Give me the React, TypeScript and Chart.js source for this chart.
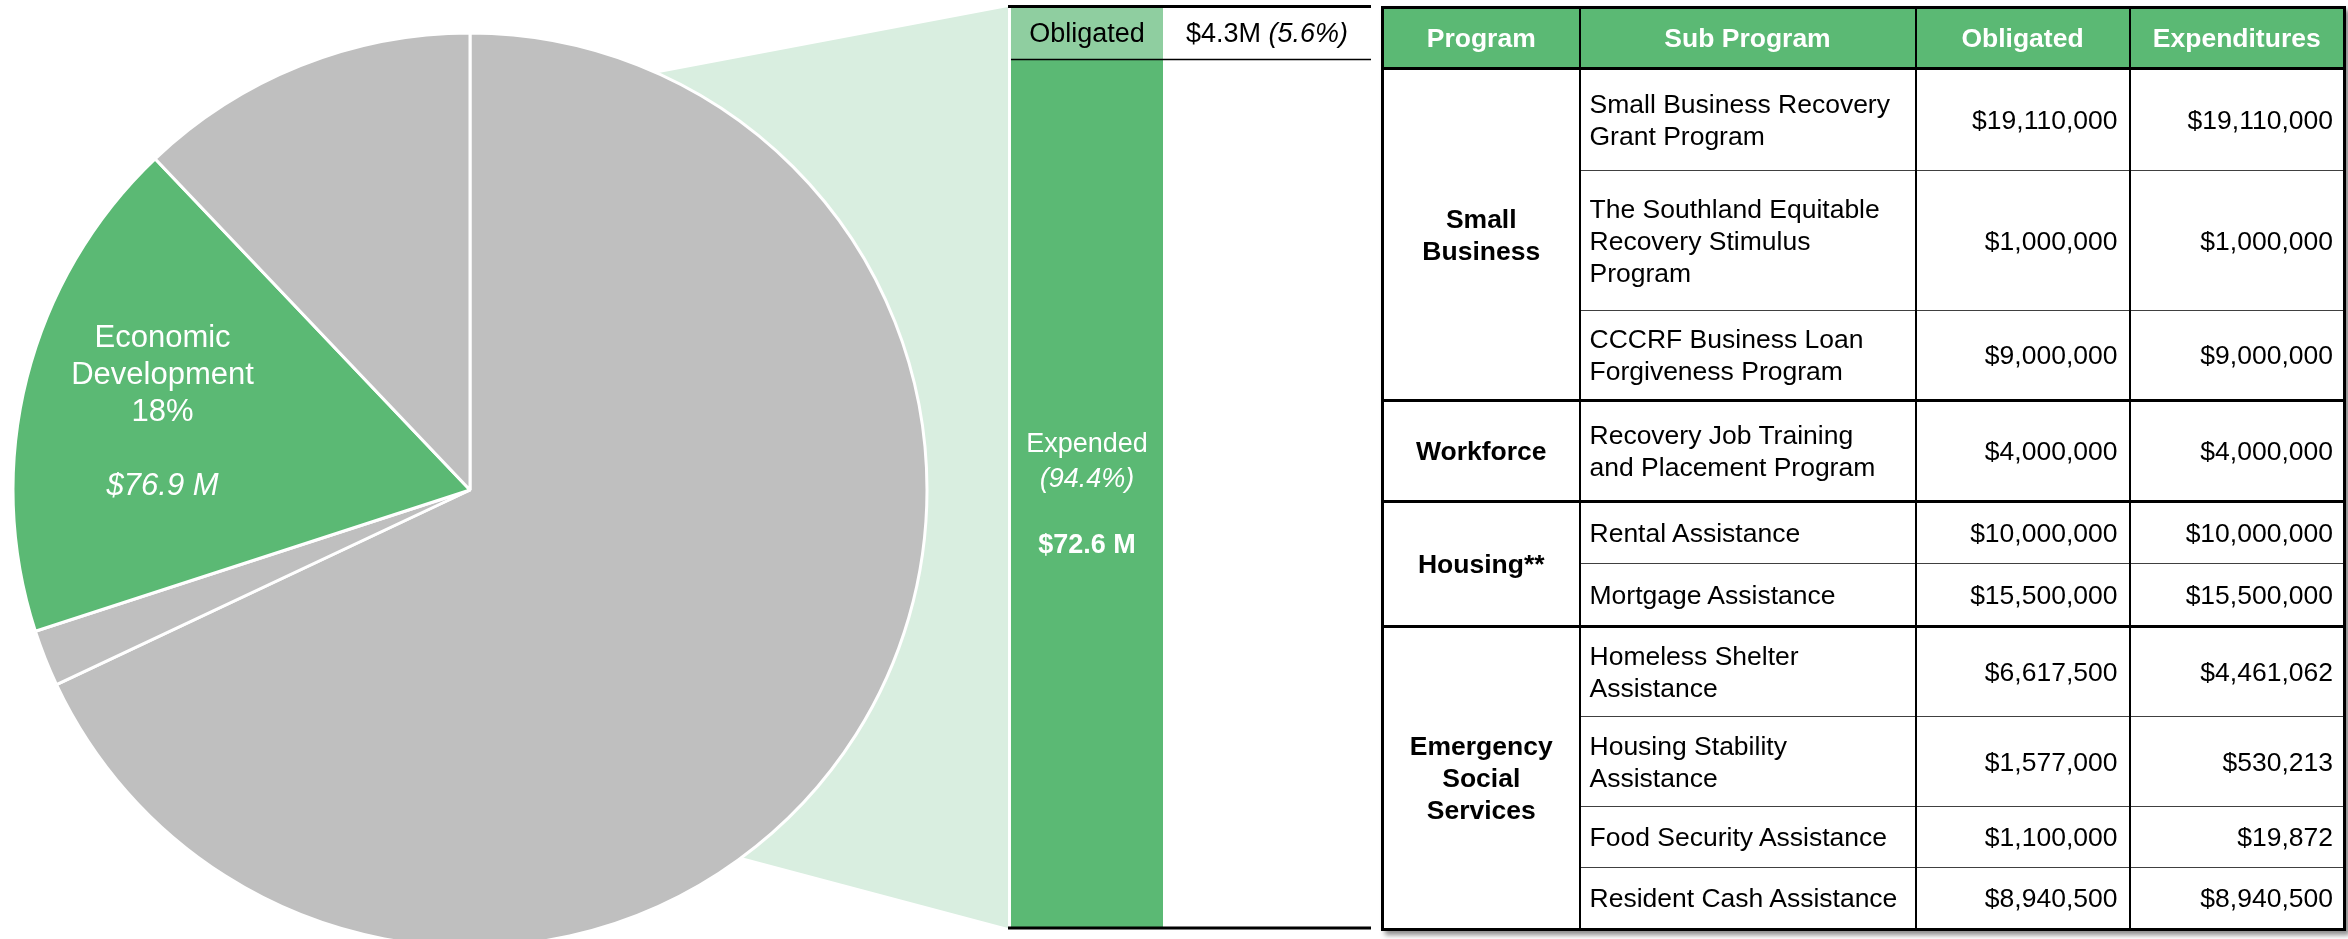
import React, { useEffect, useRef } from "react";
import { Chart, registerables } from "chart.js";

Chart.register(...registerables);

const FONT = '"Liberation Sans", Arial, Helvetica, sans-serif';

// ---------- Data ----------
const pieCategories = ["Other Programs A", "Other Programs B", "Economic Development", "Other Programs C"];
const pieShares = [68.0, 2.0, 17.9, 12.1];
const pieColors = ["#bfbfbf", "#bfbfbf", "#5bb974", "#bfbfbf"];
const pieLabelLines = ["Economic", "Development", "18%", "", "$76.9 M"];

const barCategories = ["Economic Development"];
const expendedValues = [72.6];
const obligatedValues = [4.3];
const barTotal = 76.9;
const expendedLabelLines = ["Expended", "(94.4%)", "$72.6 M"];
const obligatedLabel = "Obligated";
const obligatedAmountText = "$4.3M";
const obligatedPctText = "(5.6%)";

const tableHeaders = ["Program", "Sub Program", "Obligated", "Expenditures"];
const programNames = ["Small\nBusiness", "Workforce", "Housing**", "Emergency\nSocial\nServices"];
const programRowCounts = [3, 1, 2, 4];
const subPrograms = [
  "Small Business Recovery\nGrant Program",
  "The Southland Equitable\nRecovery Stimulus\nProgram",
  "CCCRF Business Loan\nForgiveness Program",
  "Recovery Job Training\nand Placement Program",
  "Rental Assistance",
  "Mortgage Assistance",
  "Homeless Shelter\nAssistance",
  "Housing Stability\nAssistance",
  "Food Security Assistance",
  "Resident Cash Assistance",
];
const obligatedAmounts = [19110000, 1000000, 9000000, 4000000, 10000000, 15500000, 6617500, 1577000, 1100000, 8940500];
const expenditureAmounts = [19110000, 1000000, 9000000, 4000000, 10000000, 15500000, 4461062, 530213, 19872, 8940500];

// ---------- Layout (sizes only) ----------
const HEADER_HEIGHT = 61;
const ROW_HEIGHTS = [102, 140, 90, 101, 62, 63, 90, 90, 61, 62];
const COL_WIDTHS = [197, 336, 214, 215];

const CONNECTOR_TOP_DEG = 24.2; // clockwise from 12 o'clock
const CONNECTOR_BOTTOM_DEG = 143.5;

const fmtMoney = (v: number) => "$" + v.toLocaleString("en-US");

function PieChart() {
  const ref = useRef<HTMLCanvasElement>(null);
  useEffect(() => {
    const canvas = ref.current!;
    const connectorPlugin = {
      id: "connector",
      beforeDatasetsDraw(chart: any) {
        const arc = chart.getDatasetMeta(0).data[0] as any;
        const { x: cx, y: cy, outerRadius: r } = arc;
        const ctx = chart.ctx;
        const a1 = ((CONNECTOR_TOP_DEG - 90) * Math.PI) / 180;
        const a2 = ((CONNECTOR_BOTTOM_DEG - 90) * Math.PI) / 180;
        const right = chart.width - 2;
        ctx.save();
        ctx.fillStyle = "#d9eee0";
        ctx.beginPath();
        ctx.moveTo(cx, cy);
        ctx.lineTo(cx + r * Math.cos(a1), cy + r * Math.sin(a1));
        ctx.lineTo(right, 7);
        ctx.lineTo(right, 928);
        ctx.lineTo(cx + r * Math.cos(a2), cy + r * Math.sin(a2));
        ctx.closePath();
        ctx.fill();
        ctx.restore();
      },
    };
    const labelPlugin = {
      id: "pieLabel",
      afterDatasetsDraw(chart: any) {
        const arc = chart.getDatasetMeta(0).data[2] as any;
        const mid = (arc.startAngle + arc.endAngle) / 2;
        const d = arc.outerRadius * 0.694;
        const lx = arc.x + Math.cos(mid) * d;
        const ly = arc.y + Math.sin(mid) * d;
        const ctx = chart.ctx;
        ctx.save();
        ctx.fillStyle = "#ffffff";
        ctx.textAlign = "center";
        ctx.textBaseline = "middle";
        const step = 37;
        const n = pieLabelLines.length;
        pieLabelLines.forEach((t, i) => {
          ctx.font = (i === n - 1 ? "italic " : "") + "31px " + FONT;
          ctx.fillText(t, lx, ly + (i - (n - 1) / 2) * step);
        });
        ctx.restore();
      },
    };
    const chart = new Chart(canvas, {
      type: "pie",
      data: {
        labels: pieCategories,
        datasets: [
          {
            data: pieShares,
            backgroundColor: pieColors,
            borderColor: "#ffffff",
            borderWidth: 3,
            radius: 457,
          } as any,
        ],
      },
      options: {
        animation: false,
        responsive: false,
        radius: 457,
        layout: { padding: { left: 0, right: 70, top: 0, bottom: 0 } },
        plugins: { legend: { display: false }, tooltip: { enabled: false } },
      } as any,
      plugins: [connectorPlugin, labelPlugin],
    });
    return () => chart.destroy();
  }, []);
  return (
    <canvas
      ref={ref}
      width={1010}
      height={980}
      style={{ position: "absolute", left: 0, top: 0, width: 1010, height: 980 }}
    />
  );
}

function BarChart() {
  const ref = useRef<HTMLCanvasElement>(null);
  useEffect(() => {
    const canvas = ref.current!;
    const decoPlugin = {
      id: "barDeco",
      afterDraw(chart: any) {
        const ctx = chart.ctx;
        const area = chart.chartArea;
        const y = chart.scales.y;
        const lineEnd = chart.width - 2;
        const split = y.getPixelForValue(expendedValues[0]);
        ctx.save();
        ctx.strokeStyle = "#000";
        ctx.lineWidth = 3;
        ctx.beginPath();
        ctx.moveTo(0, area.top - 1.5);
        ctx.lineTo(lineEnd, area.top - 1.5);
        ctx.moveTo(0, area.bottom + 1);
        ctx.lineTo(lineEnd, area.bottom + 1);
        ctx.stroke();
        ctx.lineWidth = 1.5;
        ctx.beginPath();
        ctx.moveTo(area.left, split);
        ctx.lineTo(lineEnd, split);
        ctx.stroke();

        const fs = 27;
        ctx.textBaseline = "middle";
        ctx.textAlign = "center";
        const cx = (area.left + area.right) / 2;
        const oy = (area.top + split) / 2 + 1;
        ctx.fillStyle = "#000";
        ctx.font = `${fs}px ${FONT}`;
        ctx.fillText(obligatedLabel, cx, oy);
        // amount text, mixed style
        const rx = (area.right + lineEnd) / 2;
        const part1 = obligatedAmountText + " ";
        ctx.font = `${fs}px ${FONT}`;
        const w1 = ctx.measureText(part1).width;
        ctx.font = `italic ${fs}px ${FONT}`;
        const w2 = ctx.measureText(obligatedPctText).width;
        ctx.textAlign = "left";
        const sx = rx - (w1 + w2) / 2;
        ctx.font = `${fs}px ${FONT}`;
        ctx.fillText(part1, sx, oy);
        ctx.font = `italic ${fs}px ${FONT}`;
        ctx.fillText(obligatedPctText, sx + w1, oy);

        // expended label
        ctx.textAlign = "center";
        ctx.fillStyle = "#fff";
        const ec = (split + area.bottom) / 2;
        ctx.font = `${fs}px ${FONT}`;
        ctx.fillText(expendedLabelLines[0], cx, ec - 49);
        ctx.font = `italic ${fs}px ${FONT}`;
        ctx.fillText(expendedLabelLines[1], cx, ec - 14);
        ctx.font = `bold ${fs}px ${FONT}`;
        ctx.fillText(expendedLabelLines[2], cx, ec + 52);
        ctx.restore();
      },
    };
    const chart = new Chart(canvas, {
      type: "bar",
      data: {
        labels: barCategories,
        datasets: [
          { label: "Expended", data: expendedValues, backgroundColor: "#5bb974", borderWidth: 0 },
          { label: "Obligated", data: obligatedValues, backgroundColor: "#8fcea0", borderWidth: 0 },
        ],
      },
      options: {
        animation: false,
        responsive: false,
        layout: { padding: { left: 3, right: 210, top: 8, bottom: 12 } },
        datasets: { bar: { categoryPercentage: 1, barPercentage: 1 } },
        scales: {
          x: { stacked: true, display: false },
          y: { stacked: true, display: false, min: 0, max: barTotal },
        },
        plugins: { legend: { display: false }, tooltip: { enabled: false } },
      } as any,
      plugins: [decoPlugin],
    });
    return () => chart.destroy();
  }, []);
  return (
    <canvas
      ref={ref}
      width={365}
      height={939}
      style={{ position: "absolute", left: 1008, top: 0, width: 365, height: 939 }}
    />
  );
}

const lines = (s: string) =>
  s.split("\n").map((t, i, arr) => (
    <React.Fragment key={i}>
      {t}
      {i < arr.length - 1 ? <br /> : null}
    </React.Fragment>
  ));

function DataTable() {
  const thick = "3px solid #000";
  const thin = "1px solid #404040";
  const col = "2px solid #000";
  const base: React.CSSProperties = {
    fontFamily: FONT,
    fontSize: 26.5,
    lineHeight: "32px",
    color: "#000",
    verticalAlign: "middle",
    padding: 0,
    whiteSpace: "nowrap",
  };
  const rows: React.ReactNode[] = [];
  let idx = 0;
  programNames.forEach((p, gi) => {
    const count = programRowCounts[gi];
    for (let k = 0; k < count; k++) {
      const i = idx++;
      const last = k === count - 1;
      const bb = last ? thick : thin;
      rows.push(
        <tr key={i} style={{ height: ROW_HEIGHTS[i] }}>
          {k === 0 ? (
            <td
              rowSpan={count}
              style={{ ...base, fontWeight: "bold", textAlign: "center", borderRight: col, borderBottom: thick, borderLeft: thick }}
            >
              {lines(p)}
            </td>
          ) : null}
          <td style={{ ...base, textAlign: "left", paddingLeft: 9, borderRight: col, borderBottom: bb }}>{lines(subPrograms[i])}</td>
          <td style={{ ...base, textAlign: "right", paddingRight: 11, borderRight: col, borderBottom: bb }}>
            {fmtMoney(obligatedAmounts[i])}
          </td>
          <td style={{ ...base, textAlign: "right", paddingRight: 10, borderRight: thick, borderBottom: bb }}>
            {fmtMoney(expenditureAmounts[i])}
          </td>
        </tr>
      );
    }
  });
  return (
    <table
      style={{
        position: "absolute",
        left: 1381,
        top: 6,
        borderCollapse: "collapse",
        tableLayout: "fixed",
        width: COL_WIDTHS.reduce((a, b) => a + b, 0),
        boxShadow: "4px 4px 5px rgba(0,0,0,0.45)",
        background: "#fff",
      }}
    >
      <colgroup>
        {COL_WIDTHS.map((w, i) => (
          <col key={i} style={{ width: w }} />
        ))}
      </colgroup>
      <thead>
        <tr style={{ height: HEADER_HEIGHT }}>
          {tableHeaders.map((h, i) => (
            <th
              key={i}
              style={{
                ...base,
                color: "#fff",
                fontWeight: "bold",
                textAlign: "center",
                background: "#5bb974",
                borderTop: thick,
                borderBottom: thick,
                borderLeft: i === 0 ? thick : undefined,
                borderRight: i === tableHeaders.length - 1 ? thick : col,
              }}
            >
              {h}
            </th>
          ))}
        </tr>
      </thead>
      <tbody>{rows}</tbody>
    </table>
  );
}

export default function App() {
  return (
    <div
      style={{
        position: "absolute",
        left: 0,
        top: 0,
        width: 2348,
        height: 939,
        overflow: "hidden",
        background: "#fff",
      }}
    >
      <PieChart />
      <BarChart />
      <DataTable />
    </div>
  );
}
